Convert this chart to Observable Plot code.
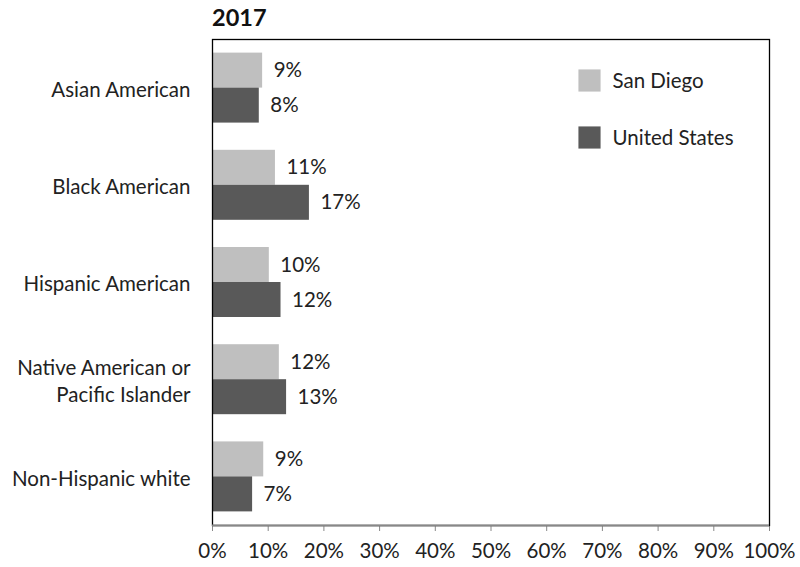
<!DOCTYPE html>
<html>
<head>
<meta charset="utf-8">
<script src="https://cdn.jsdelivr.net/npm/d3@7"></script>
<script src="https://cdn.jsdelivr.net/npm/@observablehq/plot@0.6"></script>
<style>
  html, body { margin: 0; padding: 0; background: #fff; }
  #wrap { position: relative; width: 800px; height: 567px; font-family: Lato, "Open Sans", sans-serif; }
  #title { position: absolute; left: 212px; top: 3px; font-size: 23.5px; font-weight: bold; color: #111; }
</style>
</head>
<body>
<div id="wrap"><div id="title">2017</div></div>
<script>
const categories = ["Asian American", "Black American", "Hispanic American", "Native American or\nPacific Islander", "Non-Hispanic white"];
const series = ["San Diego", "United States"];
const sanDiego = [9.0, 11.3, 10.2, 12.0, 9.2];
const unitedStates = [8.4, 17.4, 12.3, 13.3, 7.2];
const xTicks = [0, 10, 20, 30, 40, 50, 60, 70, 80, 90, 100];
const colors = ["#bfbfbf", "#595959"];

const half = 0.36; // bar thickness in category units
const data = [];
categories.forEach((c, i) => {
  data.push({cat: c, i, series: series[0], value: sanDiego[i], y1: i - half, y2: i});
  data.push({cat: c, i, series: series[1], value: unitedStates[i], y1: i, y2: i + half});
});
const legend = series.map((s, k) => ({series: s, k}));
const fs = 20.5;

const chart = Plot.plot({
  width: 800,
  height: 567,
  marginTop: 39,
  marginLeft: 212,
  marginRight: 31,
  marginBottom: 42,
  style: {fontFamily: "Lato, 'Open Sans', sans-serif", fontSize: fs + "px", color: "#222", background: "#fff"},
  x: {domain: [0, 100], label: null},
  y: {domain: [-0.5, categories.length - 0.5], reverse: true, label: null},
  color: {domain: series, range: colors},
  marks: [
    Plot.rectX(data, {x1: 0, x2: "value", y1: "y1", y2: "y2", fill: "series"}),
    Plot.text(data, {x: "value", y: d => (d.y1 + d.y2) / 2, text: d => Math.round(d.value) + "%", textAnchor: "start", dx: 11, fontSize: fs, fill: "#222"}),
    Plot.axisY(categories.map((c, i) => i), {tickFormat: i => categories[i], tickSize: 0, tickPadding: 22, fontSize: fs, fill: "#222", lineHeight: 1.35}),
    Plot.axisX(xTicks, {tickFormat: d => d + "%", tickSize: 6, stroke: "#888", tickPadding: 12, fontSize: fs, fill: "#222"}),
    Plot.frame({stroke: "#000", strokeWidth: 1.3}),
    Plot.ruleY([categories.length - 0.5], {stroke: "#888", strokeWidth: 2}),
    // legend
    Plot.dot(legend.filter(d => d.k === 0), {frameAnchor: "top-right", dx: -180, dy: 41, symbol: "square", r: 12.5, fill: "series"}),
    Plot.text(legend.filter(d => d.k === 0), {frameAnchor: "top-right", dx: -157, dy: 34, text: "series", textAnchor: "start", fontSize: fs, fill: "#222"}),
    Plot.dot(legend.filter(d => d.k === 1), {frameAnchor: "top-right", dx: -180, dy: 98, symbol: "square", r: 12.5, fill: "series"}),
    Plot.text(legend.filter(d => d.k === 1), {frameAnchor: "top-right", dx: -157, dy: 91, text: "series", textAnchor: "start", fontSize: fs, fill: "#222"})
  ]
});
document.getElementById("wrap").insertBefore(chart, document.getElementById("title"));
chart.style.position = "absolute";
chart.style.left = "0";
chart.style.top = "0";
</script>
</body>
</html>
